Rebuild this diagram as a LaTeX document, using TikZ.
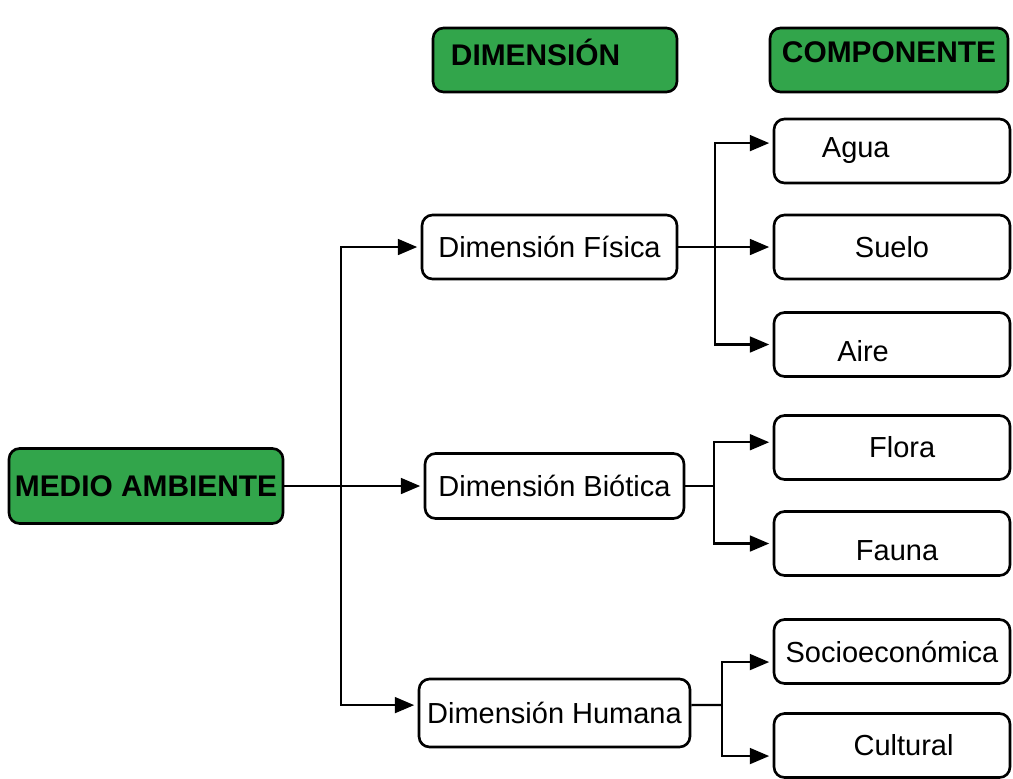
\documentclass[tikz,border=0pt]{standalone}
\usepackage{fontspec}
\setmainfont{Liberation Sans}
\usepackage{tikz}
\usetikzlibrary{arrows.meta}
\definecolor{verde}{RGB}{50,165,75}
\tikzstyle{caja}=[draw, rounded corners=6pt, line width=1.5pt, inner sep=2pt, font=\fontsize{16.5}{20}\selectfont]
\tikzstyle{cajaverde}=[caja, fill=verde, font=\fontsize{17}{20}\selectfont\bfseries]
\tikzstyle{comp}=[caja, minimum width=4.72cm, minimum height=1.28cm]
\tikzstyle{flecha}=[line width=1.3pt, -{Triangle[length=11pt,width=9pt]}, shorten >=2pt]
\tikzstyle{linea}=[line width=1.3pt]

\begin{document}
\begin{tikzpicture}[x=0.02cm, y=-0.02cm]
		   \useasboundingbox (0,0) rectangle (1013,778);
		   \begin{scope}
			   \node (ma) at (146, 486)[cajaverde, minimum width=5.48cm, minimum height=1.5cm] {MEDIO AMBIENTE};
			   \node (hdim) at (555, 60)[cajaverde, minimum width=4.88cm, minimum height=1.28cm] {\raisebox{4.5pt}[\height][\depth]{DIMENSIÓN}\hspace*{1.3em}};
			   \node (hcomp) at (889, 60)[cajaverde, minimum width=4.76cm, minimum height=1.28cm] {\raisebox{4.5pt}[\height][\depth]{COMPONENTE}};
		   \end{scope}
		   \begin{scope}
			   \node (fis) at (549.5, 247)[caja, minimum width=5.1cm, minimum height=1.28cm] {Dimensión Física};
			   \node (bio) at (554.5, 486)[caja, minimum width=5.18cm, minimum height=1.3cm] {Dimensión Biótica};
			   \node (hum) at (554.5, 713)[caja, minimum width=5.42cm, minimum height=1.36cm] {Dimensión Humana};
		   \end{scope}
		   \begin{scope}
			   \node (agua) at (892, 151)[comp] {Agua\hspace*{2.5em}};
			   \node (suelo) at (892, 247)[comp] {Suelo};
			   \node (aire) at (892, 344.5)[comp] {\raisebox{-4pt}[\height][\depth]{Aire}\hspace*{2em}};
			   \node (flora) at (892, 447.5)[comp] {\hspace*{0.7em}Flora};
			   \node (fauna) at (892, 543.5)[comp] {\hspace*{0.35em}\raisebox{-4pt}[\height][\depth]{Fauna}};
			   \node (socio) at (892, 651.5)[comp] {Socioeconómica};
			   \node (cult) at (892, 745.5)[comp] {\hspace*{0.8em}Cultural};
		   \end{scope}
		   \begin{scope}
			   \coordinate (t) at (341, 486);
			   \coordinate (jf) at (715, 247);
			   \coordinate (jb) at (714, 486);
			   \coordinate (jh) at (722, 705);
			   \draw [flecha] (ma.east) -- (bio.west);
			   \draw [flecha] (t) |- (fis.west);
			   \draw [flecha] (t) |- ([yshift=4.5pt]hum.west);
			   \draw [flecha] (fis.east) -- (suelo.west);
			   \draw [flecha] (jf) |- ([yshift=4.5pt]agua.west);
			   \draw [flecha] (jf) |- (aire.west);
			   \draw [linea] (bio.east) -- (jb);
			   \draw [flecha] (jb) |- ([yshift=3pt]flora.west);
			   \draw [flecha] (jb) |- (fauna.west);
			   \draw [linea] ([yshift=4.5pt]hum.east) -- (jh);
			   \draw [flecha] (jh) |- ([yshift=-6pt]socio.west);
			   \draw [flecha] (jh) |- ([yshift=-6pt]cult.west);
		   \end{scope}
\end{tikzpicture}
\end{document}
